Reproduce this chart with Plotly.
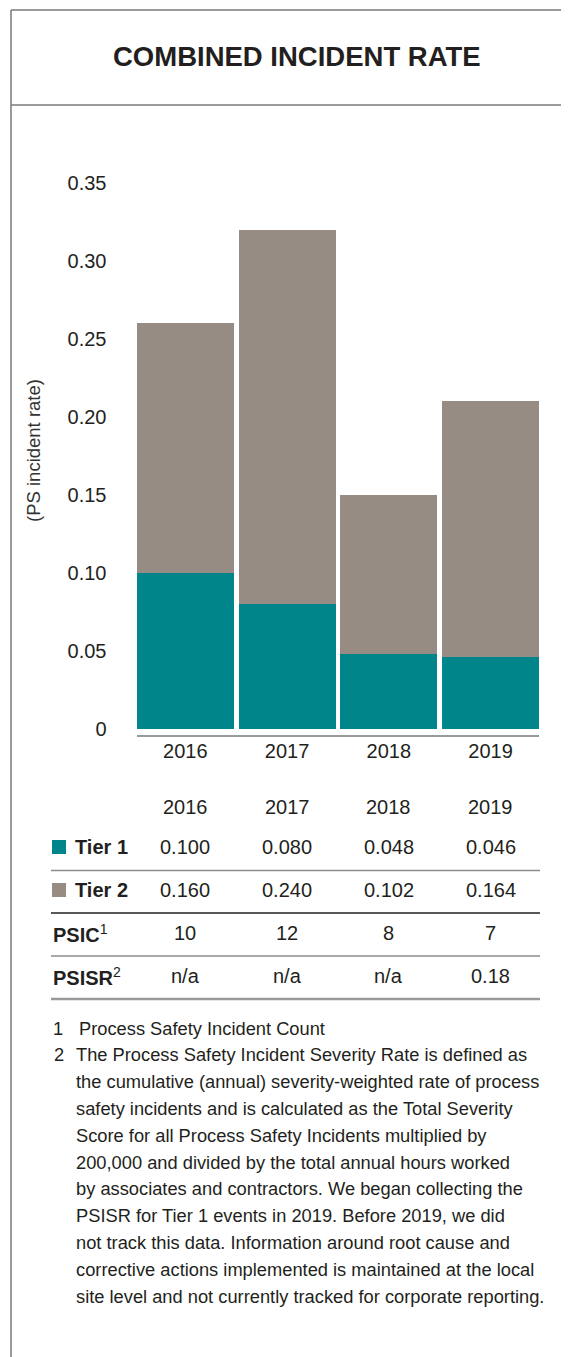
import plotly.graph_objects as go

W, H = 569, 1357
OFF = 8  # page body margin shifts the figure by this many px

years = ["2016", "2017", "2018", "2019"]
tier1 = [0.100, 0.080, 0.048, 0.046]
tier2 = [0.160, 0.240, 0.102, 0.164]
psic = [10, 12, 8, 7]
psisr = ["n/a", "n/a", "n/a", "0.18"]
y_ticks = [0, 0.05, 0.10, 0.15, 0.20, 0.25, 0.30, 0.35]
y_tick_labels = ["0", "0.05", "0.10", "0.15", "0.20", "0.25", "0.30", "0.35"]

title_text = "COMBINED INCIDENT RATE"
y_title = "(PS incident rate)"
footnote_1 = "Process Safety Incident Count"
footnote_2 = [
    "The Process Safety Incident Severity Rate is defined as",
    "the cumulative (annual) severity-weighted rate of process",
    "safety incidents and is calculated as the Total Severity",
    "Score for all Process Safety Incidents multiplied by",
    "200,000 and divided by the total annual hours worked",
    "by associates and contractors. We began collecting the",
    "PSISR for Tier 1 events in 2019. Before 2019, we did",
    "not track this data. Information around root cause and",
    "corrective actions implemented is maintained at the local",
    "site level and not currently tracked for corporate reporting.",
]

TEAL = "#00868A"
GREY = "#968C83"
INK = "#231F20"
FONT = "Liberation Sans, Arial, sans-serif"


def px(x):
    return (x - OFF) / W


def py(y):
    return 1 - (y - OFF) / H


fig = go.Figure()
fig.add_trace(go.Bar(x=years, y=tier1, name="Tier 1", marker=dict(color=TEAL, line=dict(width=0))))
fig.add_trace(go.Bar(x=years, y=tier2, name="Tier 2", marker=dict(color=GREY, line=dict(width=0))))

fig.update_layout(
    width=W, height=H,
    margin=dict(l=0, r=0, t=0, b=0, pad=0),
    paper_bgcolor="white", plot_bgcolor="white",
    barmode="stack", bargap=0.049,
    showlegend=False,
    font=dict(family=FONT, color=INK, size=20),
    xaxis=dict(type="category", range=[-0.5, 3.5], domain=[px(134.5), px(541.5)],
               showgrid=False, showline=False, zeroline=False, automargin=False,
               ticks="outside", ticklen=4, tickcolor="rgba(0,0,0,0)",
               tickfont=dict(size=20, color=INK), fixedrange=True),
    yaxis=dict(domain=[py(729), py(183)], range=[0, 0.35], showgrid=False, showline=False,
               zeroline=False, automargin=False, tickvals=y_ticks, ticktext=y_tick_labels,
               ticks="outside", ticklen=23, tickcolor="rgba(0,0,0,0)",
               tickfont=dict(size=20, color=INK), fixedrange=True),
)

line_grey = "#7a7a7a"
shapes = [
    # frame
    dict(type="line", xref="paper", yref="paper", x0=px(11), x1=1, y0=py(10), y1=py(10),
         line=dict(color=line_grey, width=1.5)),
    dict(type="line", xref="paper", yref="paper", x0=px(11), x1=1, y0=py(105), y1=py(105),
         line=dict(color=line_grey, width=1.5)),
    dict(type="line", xref="paper", yref="paper", x0=px(11), x1=px(11), y0=py(10), y1=0,
         line=dict(color=line_grey, width=1.5)),
    # baseline under the bars
    dict(type="line", xref="paper", yref="paper", x0=px(137), x1=px(539), y0=py(736), y1=py(736),
         line=dict(color="#9a9a9a", width=2)),
]
# table rules
for y, col, w in [(870.5, "#8c8c8c", 1.5), (913, INK, 1.5), (956, "#555555", 1.2), (999, "#9a9a9a", 2.5)]:
    shapes.append(dict(type="line", xref="paper", yref="paper", x0=px(51), x1=px(540),
                       y0=py(y), y1=py(y), line=dict(color=col, width=w)))
# legend squares in table
for yc, col in [(847, TEAL), (890, GREY)]:
    shapes.append(dict(type="rect", xref="paper", yref="paper", x0=px(52), x1=px(66),
                       y0=py(yc + 7), y1=py(yc - 7), fillcolor=col, line=dict(width=0)))
fig.update_layout(shapes=shapes)

ann = []
ann.append(dict(text=f"<b>{title_text}</b>", x=px(297), y=py(57), xref="paper", yref="paper",
                showarrow=False, font=dict(size=27.5, color=INK), xanchor="center", yanchor="middle"))
ann.append(dict(text=y_title, x=px(34), y=py(451), xref="paper", yref="paper", textangle=-90,
                showarrow=False, font=dict(size=18.5, color="#333333"), xanchor="center", yanchor="middle"))

rows = [
    (807, None, years),
    (847, "<b>Tier 1</b>", [f"{v:.3f}" for v in tier1]),
    (890, "<b>Tier 2</b>", [f"{v:.3f}" for v in tier2]),
    (933, "<b>PSIC</b><sup>1</sup>", [str(v) for v in psic]),
    (976, "<b>PSISR</b><sup>2</sup>", psisr),
]
for i, (yc, label, vals) in enumerate(rows):
    if label:
        lx = 73 if i in (1, 2) else 51
        ann.append(dict(text=label, x=px(lx), y=py(yc), xref="paper", yref="paper", showarrow=False,
                        font=dict(size=20, color=INK), xanchor="left", yanchor="middle"))
    for j, v in enumerate(vals):
        # category index j on the shared x axis = column of year j
        ann.append(dict(text=v, x=j, y=py(yc), xref="x", yref="paper", showarrow=False,
                        font=dict(size=20, color=INK), xanchor="center", yanchor="middle"))

lh = 26.8
fs = 18.3
ann.append(dict(text="1", x=px(51), y=py(1028), xref="paper", yref="paper", showarrow=False,
                font=dict(size=fs, color=INK), xanchor="left", yanchor="middle"))
ann.append(dict(text=footnote_1, x=px(77), y=py(1028), xref="paper", yref="paper", showarrow=False,
                font=dict(size=fs, color=INK), xanchor="left", yanchor="middle"))
ann.append(dict(text="2", x=px(52), y=py(1028 + lh), xref="paper", yref="paper", showarrow=False,
                font=dict(size=fs, color=INK), xanchor="left", yanchor="middle"))
for k, line in enumerate(footnote_2):
    ann.append(dict(text=line, x=px(74), y=py(1028 + lh * (k + 1)), xref="paper", yref="paper",
                    showarrow=False, font=dict(size=fs, color=INK), xanchor="left", yanchor="middle"))
fig.update_layout(annotations=ann)

fig.write_html("out.html")
